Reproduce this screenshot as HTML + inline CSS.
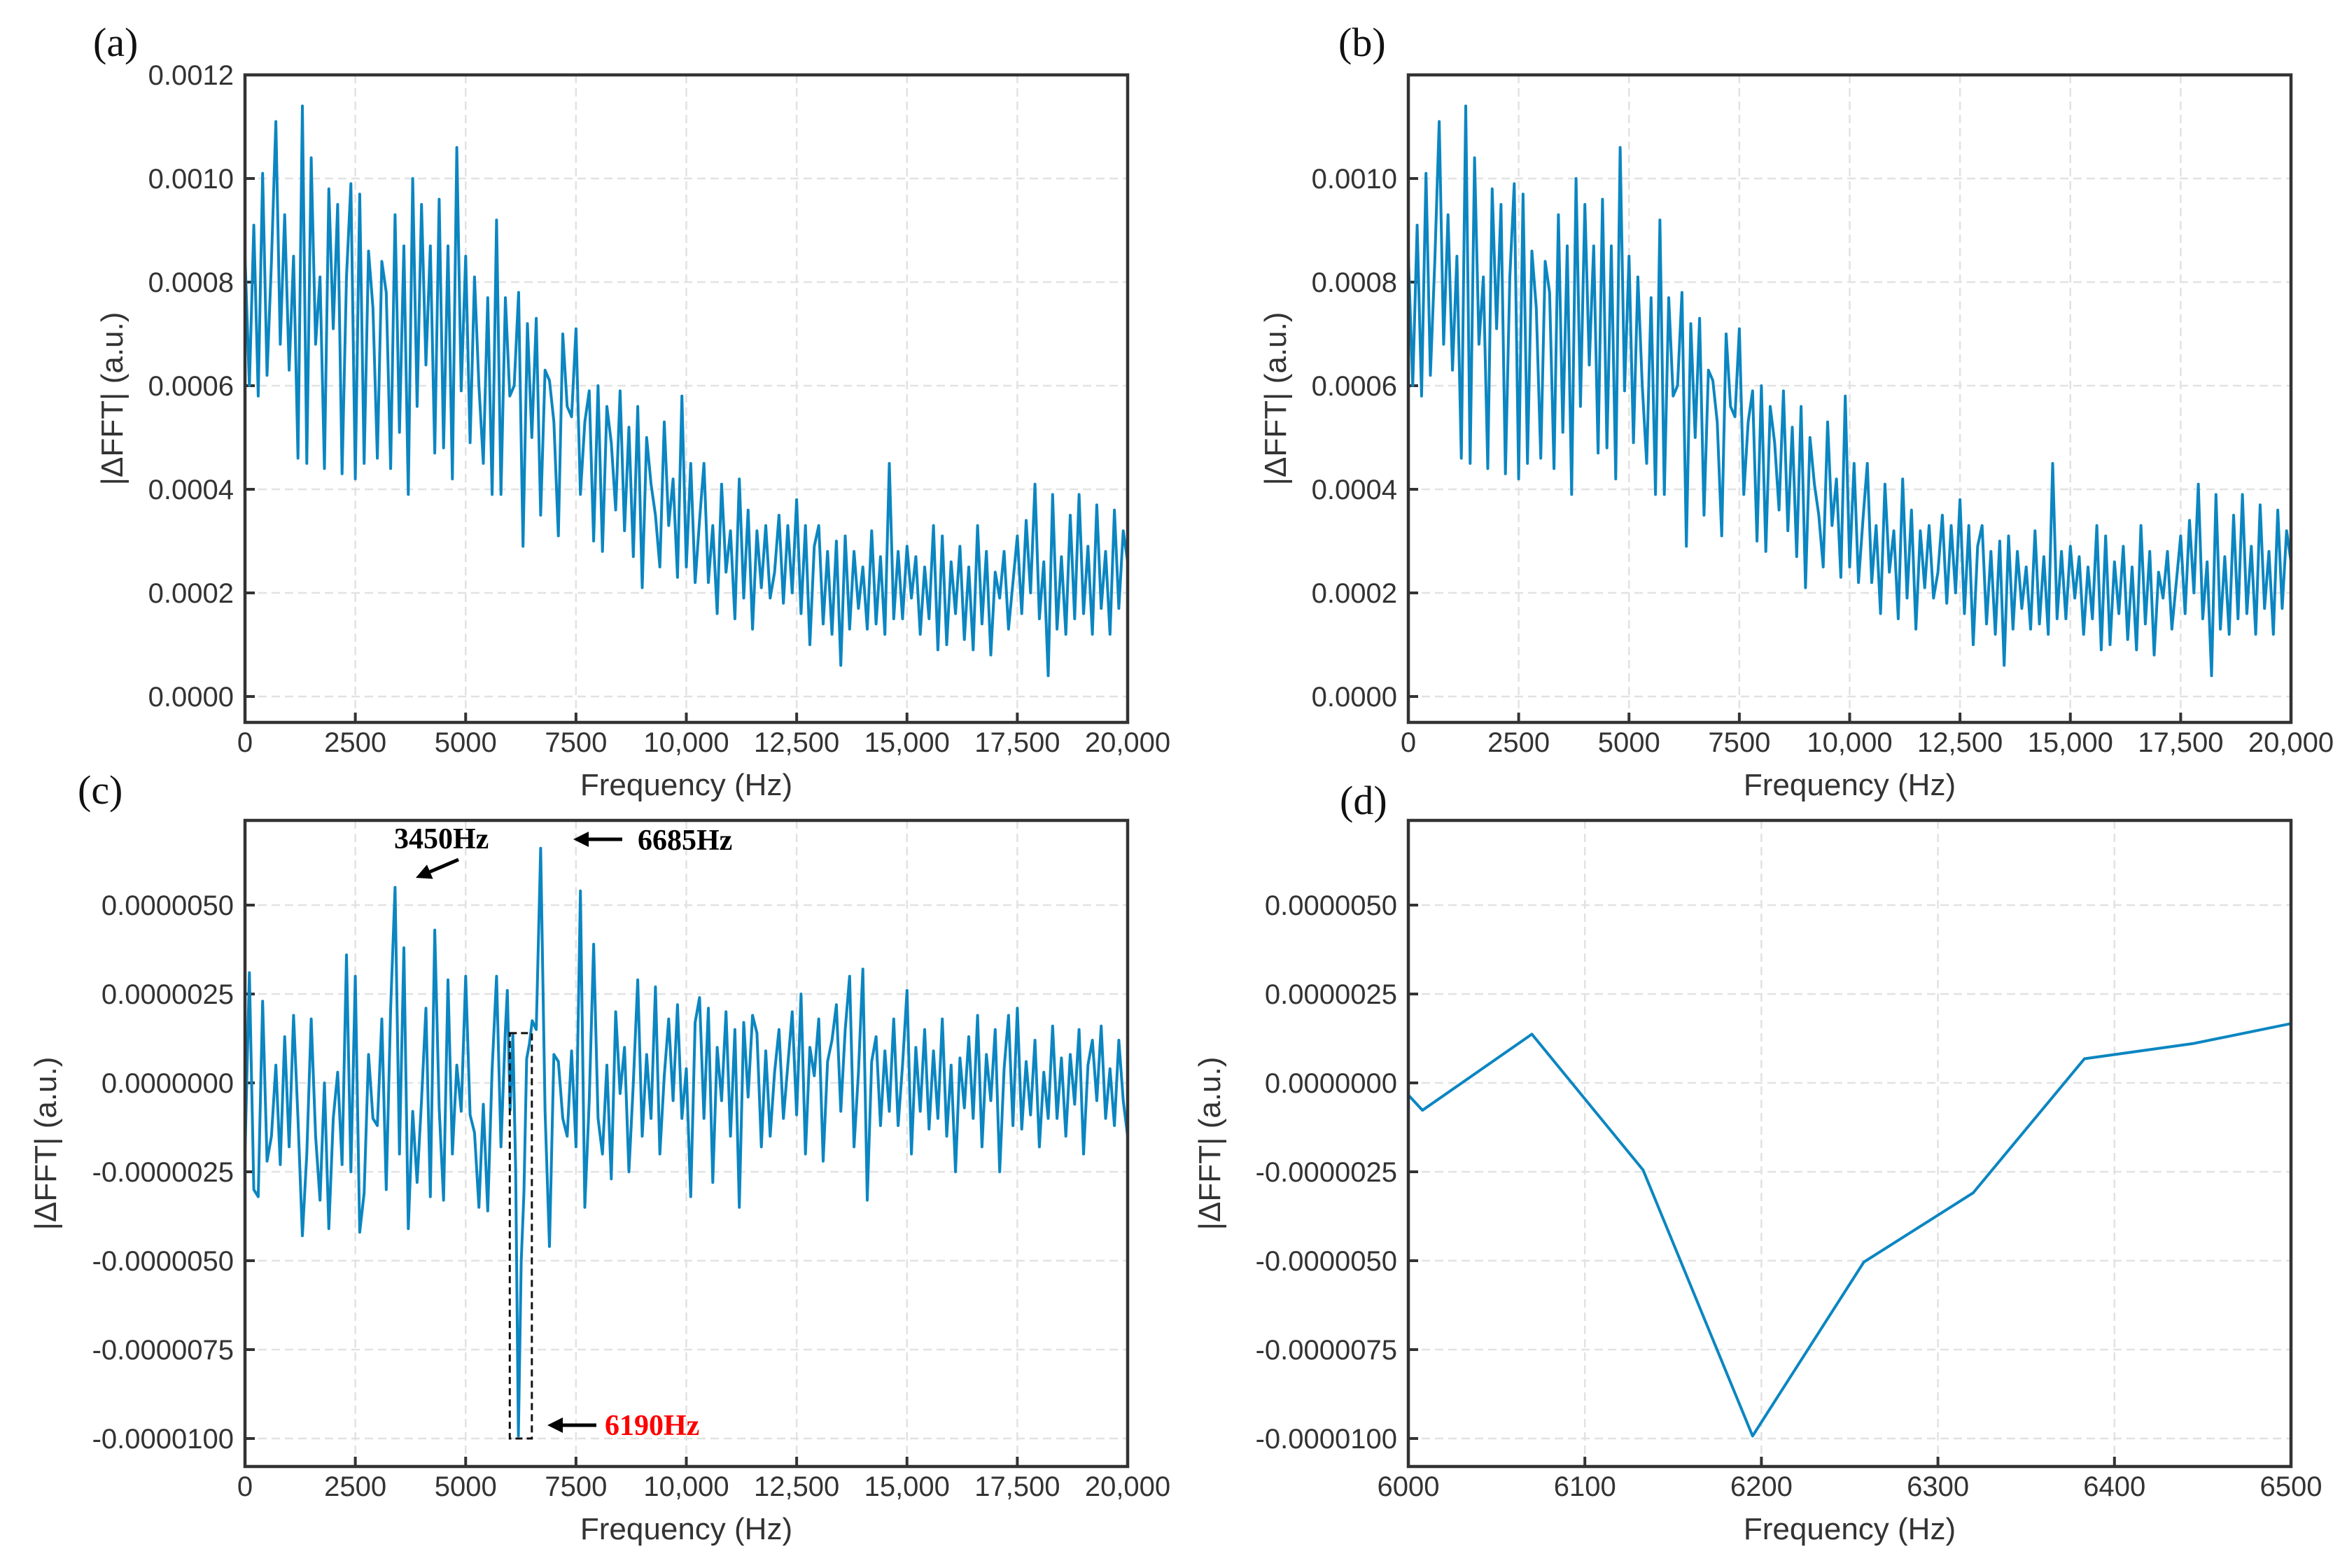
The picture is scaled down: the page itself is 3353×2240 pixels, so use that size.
<!DOCTYPE html>
<html><head><meta charset="utf-8"><style>
html,body{margin:0;padding:0;background:#fff;}
svg{display:block;}
text{font-family:"Liberation Sans",sans-serif;}
</style></head><body>
<svg id="fig" width="3353" height="2240" viewBox="0 0 3353 2240" xmlns="http://www.w3.org/2000/svg">
<defs>
<clipPath id="clipA"><rect x="350" y="107" width="1261" height="925"/></clipPath>
<clipPath id="clipB"><rect x="2012" y="107" width="1261" height="925"/></clipPath>
<clipPath id="clipC"><rect x="350" y="1172" width="1261" height="923"/></clipPath>
<clipPath id="clipD"><rect x="2012" y="1172" width="1261" height="923"/></clipPath>
</defs>
</svg>
<script>
// Panel (a)/(b) spectrum, values in 1e-4 a.u., frequency step 100 Hz from 0 to 20000
const abStep = 100;
const abVals = [8.5,6,9.1,5.8,10.1,6.2,8.4,11.1,6.8,9.3,6.3,8.5,4.6,11.4,4.5,10.4,6.8,8.1,4.4,9.8,7.1,9.5,4.3,8.1,9.9,4.2,
9.7,4.5,8.6,7.5,4.6,8.4,7.8,4.4,9.3,5.1,8.7,3.9,10.0,5.6,9.5,6.4,8.7,4.7,9.6,4.8,8.7,4.2,10.6,5.9,8.5,
4.9,8.1,6.0,4.5,7.7,3.9,9.2,3.9,7.7,5.8,6.0,7.8,2.9,7.2,5.0,7.3,3.5,6.3,6.1,5.3,3.1,7.0,5.6,5.4,7.1,
3.9,5.3,5.9,3.0,6.0,2.8,5.6,4.9,3.6,5.9,3.2,5.2,2.7,5.6,2.1,5.0,4.1,3.5,2.5,5.3,3.3,4.2,2.3,5.8,2.5,
4.5,2.2,3.4,4.5,2.2,3.3,1.6,4.1,2.4,3.2,1.5,4.2,1.9,3.6,1.3,3.2,2.1,3.3,1.9,2.4,3.5,1.8,3.3,2.0,3.8,
1.6,3.3,1.0,2.9,3.3,1.4,2.8,1.2,3.0,0.6,3.1,1.3,2.8,1.7,2.5,1.3,3.2,1.4,2.7,1.2,4.5,1.5,2.8,1.5,2.9,
1.9,2.7,1.2,2.5,1.5,3.3,0.9,3.1,1.0,2.6,1.6,2.9,1.1,2.5,0.9,3.3,1.4,2.8,0.8,2.4,1.9,2.8,1.3,2.2,3.1,
1.6,3.4,2.0,4.1,1.5,2.6,0.4,3.9,1.3,2.7,1.2,3.5,1.5,3.9,1.6,2.9,1.2,3.7,1.7,2.8,1.2,3.6,1.7,3.2,2.6];
// Panel (c) difference spectrum, values in 1e-6 a.u.
const cLowStep = 100; // 0..5900
const cLowVals = [-2.0,3.1,-3.0,-3.2,2.3,-2.2,-1.5,0.5,-2.3,1.3,
-1.8,1.9,-1.0,-4.3,-2.0,1.8,-1.5,-3.3,0.0,-4.1,
-1.0,0.3,-2.3,3.6,-2.5,3.0,-4.2,-3.1,0.8,-1.0,
-1.2,1.8,-3.0,2.1,5.5,-2.0,3.8,-4.1,-0.8,-2.8,
-0.5,2.1,-3.2,4.3,-0.7,-3.3,2.9,-2.0,0.5,-0.8,
3.0,-0.9,-1.4,-3.5,-0.6,-3.6,0.4,3.0,-1.8,1.5];
// Zoomed region (d), shared with (c)
const dFreq = [5945,6008,6070,6133,6195,6258,6320,6383,6445,6508];
const dVals = [2.6,-0.77,1.37,-2.45,-9.93,-5.04,-3.09,0.68,1.11,1.75];
const cHighStart = 6600;
const cHighVals = [1.5,6.6,-0.8,-4.6,0.8,0.6,-1.0,-1.5,0.9,-1.8,
5.4,-3.5,-0.5,3.9,-1.0,-2.0,0.5,-2.7,2.0,-0.3,
1.0,-2.5,0.0,2.9,-1.5,0.8,-1.0,2.7,-2.0,0.2,
1.8,-0.5,2.2,-1.0,0.4,-3.2,1.7,2.4,-1.0,2.1,
-2.8,1.0,-0.5,2.0,-1.5,1.5,-3.5,1.7,-0.4,1.9,
1.4,-1.8,0.9,-1.5,0.3,1.5,-1.0,0.5,2.0,-0.9,
2.5,-2.0,1.0,0.2,1.8,-2.2,0.6,1.2,2.2,-0.8,
1.5,3.0,-1.8,0.3,3.2,-3.3,0.6,1.3,-1.2,0.9,
-0.8,1.8,-1.2,0.5,2.6,-2.0,1.0,-0.8,1.5,-1.3,
0.9,-1.0,1.8,-1.5,0.5,-2.5,0.7,-0.7,1.3,-1.0,
1.9,-1.8,0.8,-0.5,1.5,-2.5,0.4,1.9,-1.2,2.1,
-1.3,0.6,-0.9,1.2,-1.8,0.3,-1.0,1.6,-1.0,0.7,
-1.5,0.8,-0.6,1.5,-2.0,0.5,1.2,-0.5,1.6,-1.0,
0.4,-1.2,1.2,-0.5,-1.5];
const xTicksWide = [0,2500,5000,7500,10000,12500,15000,17500,20000];
const xTickLabelsWide = ["0","2500","5000","7500","10,000","12,500","15,000","17,500","20,000"];
const xTicksZoom = [6000,6100,6200,6300,6400,6500];
const xTickLabelsZoom = ["6000","6100","6200","6300","6400","6500"];
const yTicksAB = [0,0.0002,0.0004,0.0006,0.0008,0.0010,0.0012];
const yTickLabelsA = ["0.0000","0.0002","0.0004","0.0006","0.0008","0.0010","0.0012"];
const yTickLabelsB = ["0.0000","0.0002","0.0004","0.0006","0.0008","0.0010",""];
const yTicksCD = [5e-6,2.5e-6,0,-2.5e-6,-5e-6,-7.5e-6,-10e-6];
const yTickLabelsCD = ["0.0000050","0.0000025","0.0000000","-0.0000025","-0.0000050","-0.0000075","-0.0000100"];

const NS = "http://www.w3.org/2000/svg";
const svg = document.getElementById("fig");
function mk(tag, attrs, parent){
  const e = document.createElementNS(NS, tag);
  for (const k in attrs) e.setAttribute(k, attrs[k]);
  (parent || svg).appendChild(e);
  return e;
}
const LINE = "#0b86c1";
const SERIF = "font-family:'Liberation Serif',serif";

function panel(p){
  const g = mk("g", {});
  
  
  const xs = v => p.x0 + (v - p.xmin) / (p.xmax - p.xmin) * (p.x1 - p.x0);
  const ys = v => p.yRef - (v - p.vRef) / p.vStep * p.pxStep;
  p.xt.forEach((t, i) => {
    const X = xs(t);
    if (i > 0 && i < p.xt.length - 1) {
      const gl = mk("line", {x1:X, x2:X, y1:p.y0, y2:p.y1, stroke:"#e2e2e2", "stroke-width":2.5, "stroke-dasharray":"12 7"}, g);
      
      
    }
    const tk = mk("line", {x1:X, x2:X, y1:p.y1, y2:p.y1 - 14, stroke:"#333", "stroke-width":4}, g);
    
    
    const tl = mk("text", {x:X, y:p.y1 + 42, "text-anchor":"middle", "font-size":40, fill:"#333"}, g);
    tl.textContent = p.xl[i];
    
    
  });
  p.yt.forEach((t, i) => {
    const Y = ys(t);
    const gl = mk("line", {x1:p.x0, x2:p.x1, y1:Y, y2:Y, stroke:"#e2e2e2", "stroke-width":2.5, "stroke-dasharray":"12 7"}, g);
    
    
    const tk = mk("line", {x1:p.x0, x2:p.x0 + 14, y1:Y, y2:Y, stroke:"#333", "stroke-width":4}, g);
    
    
    if (p.yl[i]) {
      const tl = mk("text", {x:p.x0 - 16, y:Y + 14, "text-anchor":"end", "font-size":40, fill:"#333"}, g);
      tl.textContent = p.yl[i];
      
      
    }
  });
  let d = "";
  p.fx.forEach((f, i) => { d += (i ? "L" : "M") + xs(f).toFixed(1) + "," + ys(p.fy[i]).toFixed(1); });
  const path = mk("path", {d:d, fill:"none", stroke:LINE, "stroke-width":p.lw, "stroke-linejoin":"round", "clip-path":"url(#" + p.clip + ")"}, g);
  
  
  const fr = mk("rect", {x:p.x0, y:p.y0, width:p.x1 - p.x0, height:p.y1 - p.y0, fill:"none", stroke:"#333", "stroke-width":4.5}, g);
  
  
  const xt = mk("text", {x:(p.x0 + p.x1) / 2, y:p.y1 + 104, "text-anchor":"middle", "font-size":44, fill:"#333"}, g);
  xt.textContent = "Frequency (Hz)";
  
  
  const yt = mk("text", {x:0, y:0, "text-anchor":"middle", "font-size":44, fill:"#333", transform:"translate(" + p.ytx + "," + ((p.y0 + p.y1) / 2) + ") rotate(-90)"}, g);
  yt.textContent = "|\u0394FFT| (a.u.)";
  
  
  const lb = mk("text", {x:p.lx, y:p.ly, "font-size":58, fill:"#111", style:SERIF}, g);
  lb.textContent = p.label;
  
  
  return {g, xs, ys};
}

const abFreq = abVals.map((v, i) => i * abStep);
const abY = abVals.map(v => v * 1e-4);
const cFreq = cLowVals.map((v, i) => i * cLowStep).concat(dFreq, cHighVals.map((v, i) => cHighStart + i * 100));
const cY = cLowVals.concat(dVals, cHighVals).map(v => v * 1e-6);
const dY = dVals.map(v => v * 1e-6);

panel({name:"panel-a", x0:350, x1:1611, y0:107, y1:1032, xmin:0, xmax:20000, yRef:995, vRef:0, vStep:0.0002, pxStep:148,
  xt:xTicksWide, xl:xTickLabelsWide, yt:yTicksAB, yl:yTickLabelsA, fx:abFreq, fy:abY, lw:4, clip:"clipA", ytx:175, label:"(a)", lx:133, ly:80});
panel({name:"panel-b", x0:2012, x1:3273, y0:107, y1:1032, xmin:0, xmax:20000, yRef:995, vRef:0, vStep:0.0002, pxStep:148,
  xt:xTicksWide, xl:xTickLabelsWide, yt:yTicksAB, yl:yTickLabelsB, fx:abFreq, fy:abY, lw:4, clip:"clipB", ytx:1837, label:"(b)", lx:1912, ly:80});
const pc = panel({name:"panel-c", x0:350, x1:1611, y0:1172, y1:2095, xmin:0, xmax:20000, yRef:1293, vRef:5e-6, vStep:2.5e-6, pxStep:127,
  xt:xTicksWide, xl:xTickLabelsWide, yt:yTicksCD, yl:yTickLabelsCD, fx:cFreq, fy:cY, lw:4, clip:"clipC", ytx:80, label:"(c)", lx:111, ly:1148});
panel({name:"panel-d", x0:2012, x1:3273, y0:1172, y1:2095, xmin:6000, xmax:6500, yRef:1293, vRef:5e-6, vStep:2.5e-6, pxStep:127,
  xt:xTicksZoom, xl:xTickLabelsZoom, yt:yTicksCD, yl:yTickLabelsCD, fx:dFreq, fy:dY, lw:4, clip:"clipD", ytx:1743, label:"(d)", lx:1914, ly:1163});

const ann = mk("g", {});


const zx0 = pc.xs(6000), zx1 = pc.xs(6500), zy0 = pc.ys(1.4e-6), zy1 = pc.ys(-10e-6);
const box = mk("rect", {x:zx0, y:zy0, width:zx1 - zx0, height:zy1 - zy0, fill:"none", stroke:"#111", "stroke-width":3, "stroke-dasharray":"10 6"}, ann);


function arrow(x1, y1, x2, y2, name){
  const a = Math.atan2(y2 - y1, x2 - x1), L = 22, W = 11;
  const bx = x2 - L * Math.cos(a), by = y2 - L * Math.sin(a);
  const l = mk("line", {x1:x1, y1:y1, x2:bx, y2:by, stroke:"#000", "stroke-width":5}, ann);
  
  
  const pts = [x2 + "," + y2, (bx + W * Math.sin(a)) + "," + (by - W * Math.cos(a)), (bx - W * Math.sin(a)) + "," + (by + W * Math.cos(a))].join(" ");
  const h = mk("polygon", {points:pts, fill:"#000"}, ann);
  
  
}
const t1 = mk("text", {x:563, y:1212, "font-size":42, "font-weight":"bold", fill:"#000", style:SERIF}, ann);
t1.textContent = "3450Hz";


arrow(655, 1228, 594, 1254, "arrow-3450hz");
const t2 = mk("text", {x:911, y:1214, "font-size":42, "font-weight":"bold", fill:"#000", style:SERIF}, ann);
t2.textContent = "6685Hz";


arrow(889, 1199, 819, 1199, "arrow-6685hz");
const t3 = mk("text", {x:864, y:2050, "font-size":42, "font-weight":"bold", fill:"#ff0000", style:SERIF}, ann);
t3.textContent = "6190Hz";


arrow(852, 2036, 782, 2036, "arrow-6190hz");
</script>
</body></html>
